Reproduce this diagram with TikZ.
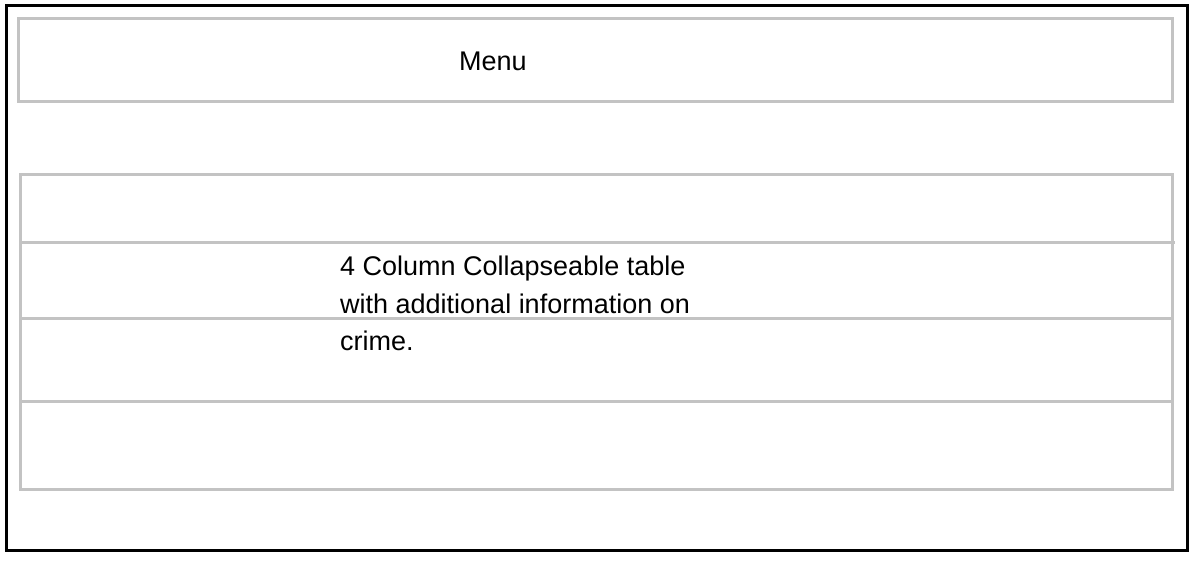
\documentclass[tikz,border=0pt]{standalone}
\usepackage{fontspec}
\setmainfont{Liberation Sans}
\usetikzlibrary{positioning}

\definecolor{rulegray}{RGB}{195,195,195}

\tikzstyle{frame} = [rectangle, draw = black, line width = 3pt, inner sep = 0pt, outer sep = 0pt]
\tikzstyle{panel} = [rectangle, draw = rulegray, line width = 3pt, inner sep = 0pt, outer sep = 0pt, anchor = north west]
\tikzstyle{rowline} = [draw = rulegray, line width = 3pt]
\tikzstyle{label} = [font = \fontsize{27}{37.5}\selectfont, inner sep = 0pt]

\begin{document}
\begin{tikzpicture}[x = 1pt, y = -1pt]

    \useasboundingbox (0,0) rectangle (1197,566);
    \node(page)[frame, minimum width = 1181pt, minimum height = 545pt, anchor = north west] at (6.5,5.5) {};

    \node(menu)[panel, minimum width = 1154pt, minimum height = 83pt] at (18,18) {};
    \node(menutext)[label] at (493,61) {Menu};

    \node(rowa)[panel, minimum width = 1152pt, minimum height = 68pt] at (20,174) {};
    \node(rowb)[panel, minimum width = 1152pt, minimum height = 76pt, below = 0 of rowa.south west, anchor = north west] {};
    \node(rowc)[panel, minimum width = 1152pt, minimum height = 83pt, below = 0 of rowb.south west, anchor = north west] {};
    \node(rowd)[panel, minimum width = 1152pt, minimum height = 88pt, below = 0 of rowc.south west, anchor = north west] {};
    \coordinate(rowend) at ([xshift = 3pt]rowa.south east);
    \draw[rowline](rowa.south east) -- (rowend);

    \node(info)[label, align = left, anchor = north west] at (340,256) {4 Column Collapseable table\\with additional information on\\crime.};

\end{tikzpicture}
\end{document}
